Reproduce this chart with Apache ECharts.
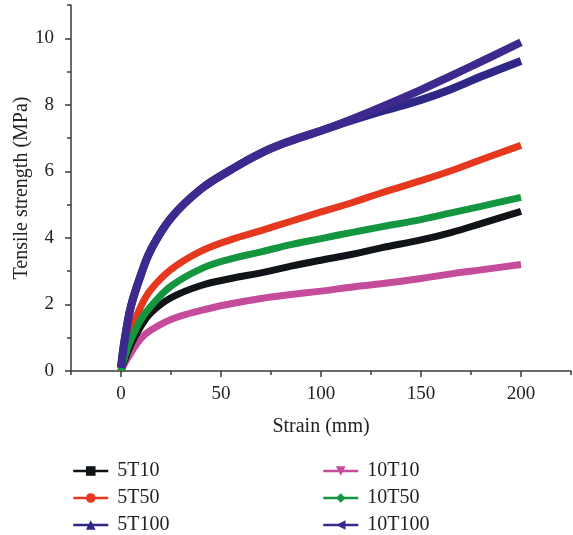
<!DOCTYPE html>
<html>
<head>
<meta charset="utf-8">
<script src="https://cdn.jsdelivr.net/npm/echarts@6/dist/echarts.min.js"></script>
<style>
  html, body { margin: 0; padding: 0; background: #fff; }
  #main { width: 573px; height: 535px; }
</style>
</head>
<body>
<div id="main"></div>
<script>
// strain (mm)
const strain = [0, 2, 5, 10, 15, 25, 40, 55, 70, 85, 100, 115, 130, 150, 165, 180, 200];

// tensile strength (MPa) per sample
const s5T10 = [0, 0.35, 0.8, 1.35, 1.75, 2.2, 2.57, 2.78, 2.95, 3.15, 3.33, 3.5, 3.7, 3.94, 4.16, 4.43, 4.8];
const s5T50 = [0, 0.6, 1.2, 1.95, 2.45, 3.05, 3.6, 3.95, 4.22, 4.5, 4.78, 5.05, 5.35, 5.72, 6.02, 6.35, 6.78];
const s5T100 = [0.1, 1.0, 1.95, 2.9, 3.65, 4.6, 5.47, 6.05, 6.55, 6.92, 7.22, 7.52, 7.8, 8.15, 8.47, 8.85, 9.32];
const s10T10 = [0, 0.25, 0.55, 0.98, 1.23, 1.55, 1.82, 2.02, 2.18, 2.3, 2.4, 2.52, 2.62, 2.78, 2.92, 3.04, 3.2];
const s10T50 = [0, 0.45, 0.95, 1.55, 1.95, 2.55, 3.07, 3.37, 3.58, 3.8, 3.98, 4.16, 4.33, 4.55, 4.75, 4.95, 5.22];
const s10T100 = [0.1, 1.0, 1.95, 2.9, 3.65, 4.6, 5.47, 6.05, 6.55, 6.92, 7.22, 7.56, 7.93, 8.45, 8.87, 9.3, 9.88];

// axis ticks
const xMajor = [0, 50, 100, 150, 200];
const xMinor = [-25, 25, 75, 125, 175, 225];
const yMajor = [0, 2, 4, 6, 8, 10];
const yMinor = [1, 3, 5, 7, 9, 11];

const font = "Liberation Serif";
const axisColor = "#3a3a3a";

const pair = (ys) => strain.map((x, i) => [x, ys[i]]);

const mk = (name, ys, color, symbol, rotate, width) => ({
    name: name,
    type: "line",
    data: pair(ys),
    smooth: 0.4,
    showSymbol: false,
    symbol: symbol,
    symbolRotate: rotate,
    symbolSize: 9,
    itemStyle: { color: color },
    lineStyle: { color: color, width: width || 7 },
    emphasis: { disabled: true },
    silent: true,
    animation: false,
});

const legendBase = {
    orient: "vertical",
    top: 456,
    height: 80,
    itemWidth: 35,
    itemHeight: 12,
    itemGap: 7,
    lineStyle: { width: 2.5 },
    textStyle: { fontFamily: font, fontSize: 20, lineHeight: 20, color: "#222", padding: [0, 0, 0, 4] },
};

const chart = echarts.init(document.getElementById("main"));
chart.setOption({
    backgroundColor: "#fff",
    textStyle: { fontFamily: font },
    grid: { left: 71, right: 2, top: 5, bottom: 164 },
    xAxis: [
        {
            type: "value",
            min: -25,
            max: 225,
            name: "Strain (mm)",
            nameLocation: "middle",
            nameGap: 46,
            nameTextStyle: { fontFamily: font, fontSize: 20, color: "#222" },
            axisLine: { onZero: false, lineStyle: { color: axisColor, width: 1.5 } },
            axisTick: { customValues: xMajor, length: 6, lineStyle: { color: axisColor, width: 1.5 } },
            axisLabel: { customValues: xMajor, fontFamily: font, fontSize: 19, color: "#222", margin: 14 },
            splitLine: { show: false },
        },
        {
            type: "value",
            min: -25,
            max: 225,
            position: "bottom",
            axisLine: { show: false, onZero: false },
            axisTick: { customValues: xMinor, length: 4, lineStyle: { color: axisColor, width: 1.5 } },
            axisLabel: { show: false },
            splitLine: { show: false },
        },
    ],
    yAxis: [
        {
            type: "value",
            min: 0,
            max: 11,
            name: "Tensile strength (MPa)",
            nameLocation: "middle",
            nameGap: 39,
            nameMoveOverlap: false,
            nameTextStyle: { fontFamily: font, fontSize: 20, color: "#222" },
            axisLine: { show: true, onZero: false, lineStyle: { color: axisColor, width: 1.5 } },
            axisTick: { show: true, customValues: yMajor, length: 6, lineStyle: { color: axisColor, width: 1.5 } },
            axisLabel: { customValues: yMajor, fontFamily: font, fontSize: 19, color: "#222", margin: 17 },
            splitLine: { show: false },
        },
        {
            type: "value",
            min: 0,
            max: 11,
            position: "left",
            axisLine: { show: false, onZero: false },
            axisTick: { show: true, customValues: yMinor, length: 4, lineStyle: { color: axisColor, width: 1.5 } },
            axisLabel: { show: false },
            splitLine: { show: false },
        },
    ],
    legend: [
        Object.assign({}, legendBase, { data: ["5T10", "5T50", "5T100"], left: 67 }),
        Object.assign({}, legendBase, { data: ["10T10", "10T50", "10T100"], left: 317 }),
    ],
    series: [
        mk("10T10", s10T10, "#c44c9a", "triangle", 180),
        mk("5T10", s5T10, "#101318", "rect", 0),
        mk("5T50", s5T50, "#e6381f", "circle", 0),
        mk("10T50", s10T50, "#13963f", "diamond", 0),
        mk("5T100", s5T100, "#2e2785", "triangle", 0, 8),
        mk("10T100", s10T100, "#3e2a8e", "triangle", 90, 8),
    ],
});
</script>
</body>
</html>
